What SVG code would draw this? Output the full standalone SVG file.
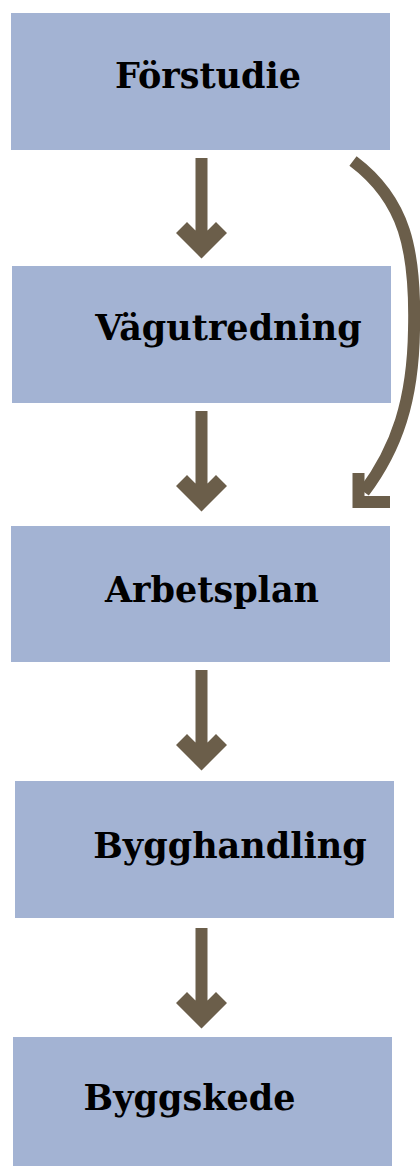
<svg xmlns="http://www.w3.org/2000/svg" xmlns:xlink="http://www.w3.org/1999/xlink" width="420" height="1166" viewBox="0 0 420 1166">
<style>
.box{fill:#A3B3D3}
.lbl{font-family:"DejaVu Serif","Liberation Serif",serif;font-weight:bold;font-size:35px;fill:#000;text-anchor:middle}
.arr{fill:#6B5E4A}
.curve{fill:none;stroke:#6B5E4A;stroke-width:12}
</style>
<defs>
<polygon id="down" class="arr" points="-6,0 6,0 6,72.5 14.5,64 25.5,75 0,100.5 -25.5,75 -14.5,64 -6,72.5"/>
</defs>
<rect width="420" height="1166" fill="#fff"/>
<g id="forstudie"><rect class="box" x="11" y="13" width="379" height="137"/><text class="lbl" x="208" y="88">Förstudie</text></g>
<g id="vagutredning"><rect class="box" x="12" y="266" width="379" height="137"/><text class="lbl" x="228.5" y="340">Vägutredning</text></g>
<g id="arbetsplan"><rect class="box" x="11" y="526" width="379" height="136"/><text class="lbl" x="212" y="602">Arbetsplan</text></g>
<g id="bygghandling"><rect class="box" x="15" y="781" width="379" height="137"/><text class="lbl" x="230" y="858">Bygghandling</text></g>
<g id="byggskede"><rect class="box" x="13" y="1037" width="379" height="129"/><text class="lbl" x="189.5" y="1110">Byggskede</text></g>
<g id="connectors">
<use xlink:href="#down" href="#down" transform="translate(201.5,158)"/>
<use xlink:href="#down" href="#down" transform="translate(201.5,411)"/>
<use xlink:href="#down" href="#down" transform="translate(201.5,670)"/>
<use xlink:href="#down" href="#down" transform="translate(201.5,928)"/>
<path class="curve" d="M353,161 C405,200 416,250 414,330 C413,400 397,448 364,492"/>
<polyline class="curve" points="358.5,473 358.5,502 390,502" stroke-linejoin="miter" stroke-width="13"/>
</g>
</svg>
